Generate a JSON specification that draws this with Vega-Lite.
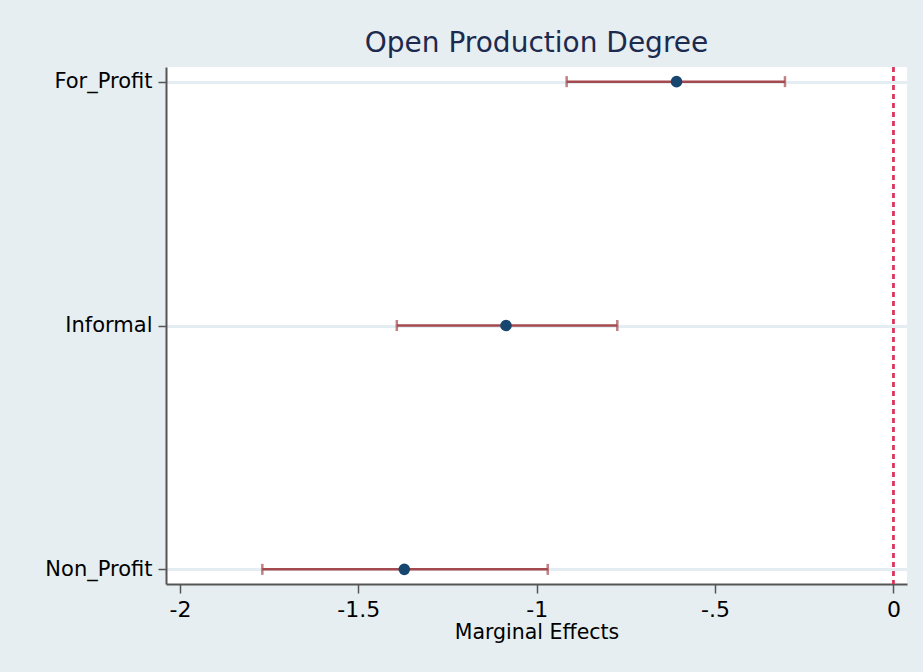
{
  "$schema": "https://vega.github.io/schema/vega-lite/v6.json",
  "autosize": "none",
  "width": 741,
  "height": 517,
  "padding": {"left": 166, "top": 67, "right": 16, "bottom": 88},
  "background": "#e6eef1",
  "title": {
    "text": "Open Production Degree",
    "font": "DejaVu Sans",
    "fontSize": 28,
    "fontWeight": "normal",
    "color": "#1c2a4f",
    "anchor": "middle",
    "baseline": "alphabetic",
    "offset": -14
  },
  "config": {
    "view": {"fill": "white", "stroke": null},
    "axis": {
      "labelFont": "DejaVu Sans",
      "titleFont": "DejaVu Sans",
      "labelFontSize": 20,
      "titleFontSize": 20.5,
      "labelColor": "#000000",
      "titleColor": "#000000",
      "titleFontWeight": "normal",
      "domainColor": "#555555",
      "domainWidth": 2,
      "tickColor": "#555555",
      "tickWidth": 1.5
    }
  },
  "data": {
    "values": [
      {"group": "For_Profit", "est": -0.608, "lo": -0.916, "hi": -0.304},
      {"group": "Informal", "est": -1.086, "lo": -1.392, "hi": -0.774},
      {"group": "Non_Profit", "est": -1.371, "lo": -1.769, "hi": -0.969}
    ]
  },
  "encoding": {
    "y": {
      "field": "group",
      "type": "nominal",
      "sort": ["For_Profit", "Informal", "Non_Profit"],
      "scale": {"type": "point", "padding": 0.06},
      "axis": {
        "title": null,
        "tickSize": 8,
        "labelPadding": 6,
        "labelFontSize": 21,
        "grid": true,
        "gridColor": "#e4edf1",
        "gridWidth": 3
      }
    }
  },
  "layer": [
    {
      "mark": {"type": "rule", "color": "#d9325a", "strokeDash": [5, 4], "strokeWidth": 2},
      "encoding": {"x": {"datum": 0, "type": "quantitative"}, "y": null}
    },
    {
      "mark": {"type": "rule", "color": "#a4494e", "strokeWidth": 2.5},
      "encoding": {
        "x": {
          "field": "lo",
          "type": "quantitative",
          "scale": {"domain": [-2.039, 0.038], "nice": false, "zero": false},
          "axis": {
            "title": "Marginal Effects",
            "values": [-2, -1.5, -1, -0.5, 0],
            "labelExpr": "replace(toString(datum.value), '0.', '.')",
            "labelFontSize": 22,
            "grid": false,
            "tickSize": 9,
            "labelPadding": 6,
            "titlePadding": 2
          }
        },
        "x2": {"field": "hi"}
      }
    },
    {
      "mark": {"type": "tick", "color": "#a4494e", "orient": "vertical", "size": 11, "thickness": 2.5},
      "encoding": {"x": {"field": "lo", "type": "quantitative"}}
    },
    {
      "mark": {"type": "tick", "color": "#a4494e", "orient": "vertical", "size": 11, "thickness": 2.5},
      "encoding": {"x": {"field": "hi", "type": "quantitative"}}
    },
    {
      "mark": {"type": "point", "filled": true, "color": "#17476f", "opacity": 1, "size": 135},
      "encoding": {"x": {"field": "est", "type": "quantitative"}}
    }
  ]
}
